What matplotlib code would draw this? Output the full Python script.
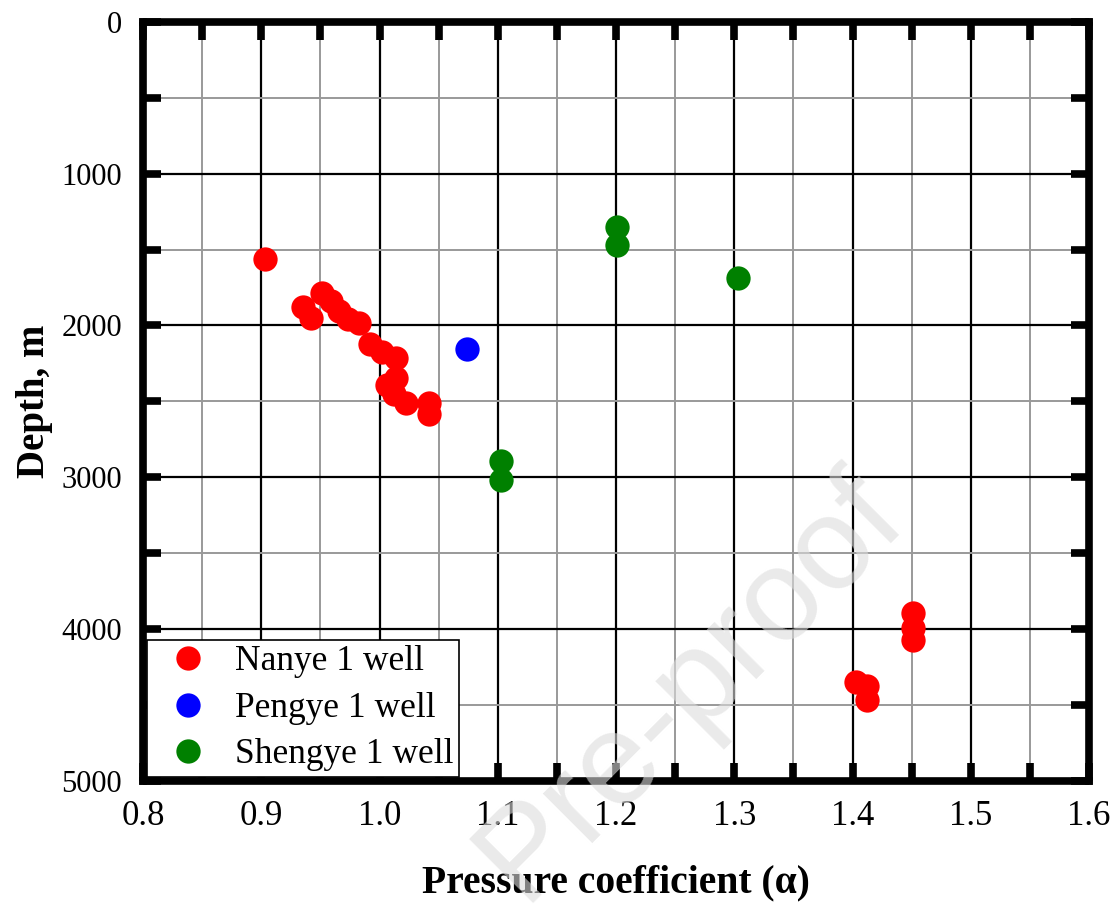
"""Pressure coefficient vs depth for the Nanye, Pengye and Shengye 1 wells."""

import matplotlib

matplotlib.use("Agg")
import matplotlib.pyplot as plt
from matplotlib.ticker import MultipleLocator

# Nanye 1 well
nanye_alpha = [0.903, 0.935, 0.942, 0.951, 0.959, 0.966, 0.973, 0.983, 0.992,
               1.002, 1.014, 1.014, 1.006, 1.012, 1.022, 1.042, 1.042,
               1.403, 1.412, 1.412, 1.451, 1.451, 1.451]
nanye_depth = [1560, 1879, 1952, 1787, 1836, 1908, 1958, 1985, 2123,
               2172, 2215, 2347, 2391, 2450, 2512, 2508, 2582,
               4346, 4372, 4466, 3891, 3994, 4071]

# Pengye 1 well
pengye_alpha = [1.074]
pengye_depth = [2154]

# Shengye 1 well
shengye_alpha = [1.201, 1.201, 1.303, 1.103, 1.103]
shengye_depth = [1350, 1469, 1686, 2896, 3017]

SERIES = (
    (nanye_alpha, nanye_depth, "red", "Nanye 1 well"),
    (pengye_alpha, pengye_depth, "blue", "Pengye 1 well"),
    (shengye_alpha, shengye_depth, "green", "Shengye 1 well"),
)

plt.rcParams["font.family"] = ["Liberation Serif", "DejaVu Serif"]

fig = plt.figure(figsize=(11.17, 9.06), dpi=100)
ax = fig.add_axes([0.128, 0.138, 0.847, 0.838])

for alpha, depth, color, label in SERIES:
    ax.plot(alpha, depth, "o", color=color, markersize=17.5, label=label,
            zorder=3, markeredgewidth=0)

ax.set_xlim(0.8, 1.6)
ax.set_ylim(5000, 0)
ax.xaxis.set_major_locator(MultipleLocator(0.1))
ax.xaxis.set_minor_locator(MultipleLocator(0.05))
ax.yaxis.set_major_locator(MultipleLocator(1000))
ax.yaxis.set_minor_locator(MultipleLocator(500))
ax.xaxis.set_major_formatter(lambda v, pos: f"{v:.1f}")

ax.grid(True, which="major", color="black", linewidth=1.6, zorder=1)
ax.grid(True, which="minor", color="#999999", linewidth=1.4, zorder=1)
ax.set_axisbelow(True)

ax.tick_params(which="both", direction="in", length=13, width=5.5,
               top=True, right=True, color="black")
ax.tick_params(axis="x", labelsize=25, pad=14)
ax.tick_params(axis="y", labelsize=22, pad=15)
for spine in ax.spines.values():
    spine.set_linewidth(5.5)

ax.set_xlabel("Pressure coefficient (α)", fontsize=28.5, fontweight="bold",
              labelpad=22)
ax.set_ylabel("Depth, m", fontsize=28, fontweight="bold", labelpad=6)

leg = ax.legend(loc="lower left", fontsize=25.5, frameon=True, fancybox=False,
                edgecolor="black", framealpha=1, borderaxespad=0.12,
                handletextpad=0.32, handlelength=2.0, labelspacing=0.38,
                borderpad=0.15, markerscale=1.0)
leg.get_frame().set_linewidth(1.2)

# journal watermark (only this part is visible in the figure)
fig.text(0.812, 0.428, "Pre-proof", fontsize=94, color="#dcdcdc",
         alpha=0.6, family="Liberation Sans", rotation=45,
         rotation_mode="anchor", ha="right", va="baseline", zorder=5)

fig.savefig("out.png", dpi=100)
